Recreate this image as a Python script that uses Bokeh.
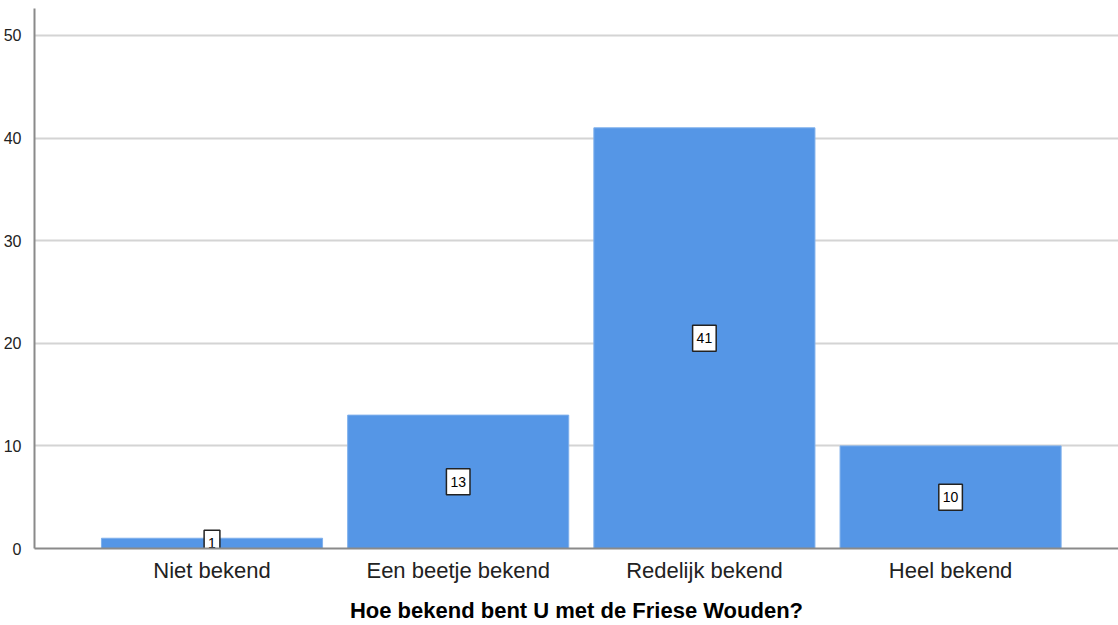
from bokeh.plotting import figure
from bokeh.models import ColumnDataSource, Range1d, FixedTicker
from bokeh.core.properties import value
from bokeh.embed import file_html
from bokeh.resources import INLINE

categories = ["Niet bekend", "Een beetje bekend", "Redelijk bekend", "Heel bekend"]
counts = [1, 13, 41, 10]
y_ticks = [0, 10, 20, 30, 40, 50]
x_title = "Hoe bekend bent U met de Friese Wouden?"

xs = list(range(len(categories)))
src = ColumnDataSource(dict(
    x=xs, top=counts, mid=[c / 2 for c in counts], lab=[str(c) for c in counts]))

p = figure(width=1118, height=625, output_backend="svg", toolbar_location=None,
           x_range=Range1d(-0.721, 3.682), y_range=Range1d(0, 52.63),
           min_border_left=34, min_border_right=0, min_border_top=8, min_border_bottom=77)
p.outline_line_color = None
p.background_fill_color = "white"

p.vbar(x="x", top="top", width=0.898, source=src, fill_color="#5596e6",
       line_color="#7fb0ec", line_width=1)

p.text(x="x", y="mid", text="lab", source=src, text_align="center",
       text_baseline="middle", text_font=value("Liberation Sans"), text_font_size="14px",
       text_color="black", background_fill_color="white",
       border_line_color="#222222", border_line_width=1.5, padding=(4, 4, 8, 8))

p.xaxis.ticker = FixedTicker(ticks=xs)
p.xaxis.major_label_overrides = {i: c for i, c in enumerate(categories)}
p.xaxis.major_label_text_font = "Liberation Sans"
p.xaxis.major_label_text_font_size = "22px"
p.xaxis.major_label_text_color = "#222222"
p.xaxis.major_tick_line_color = None
p.xaxis.minor_tick_line_color = None
p.xaxis.axis_line_color = "#8a8a8a"
p.xaxis.axis_line_width = 2
p.xaxis.major_label_standoff = 3
p.xaxis.axis_label = x_title
p.xaxis.axis_label_text_font = "Liberation Sans"
p.xaxis.axis_label_text_font_style = "bold"
p.xaxis.axis_label_text_font_size = "22px"
p.xaxis.axis_label_text_color = "black"
p.xaxis.axis_label_standoff = 12

p.yaxis.ticker = FixedTicker(ticks=y_ticks)
p.yaxis.major_label_text_font = "Liberation Sans"
p.yaxis.major_label_text_font_size = "16px"
p.yaxis.major_label_text_color = "#222222"
p.yaxis.major_tick_line_color = None
p.yaxis.minor_tick_line_color = None
p.yaxis.axis_line_color = "#8a8a8a"
p.yaxis.axis_line_width = 2
p.yaxis.major_label_standoff = 7

p.xgrid.grid_line_color = None
p.ygrid.grid_line_color = "#d4d4d4"
p.ygrid.grid_line_width = 2

open("out.html", "w").write(file_html(p, INLINE))
